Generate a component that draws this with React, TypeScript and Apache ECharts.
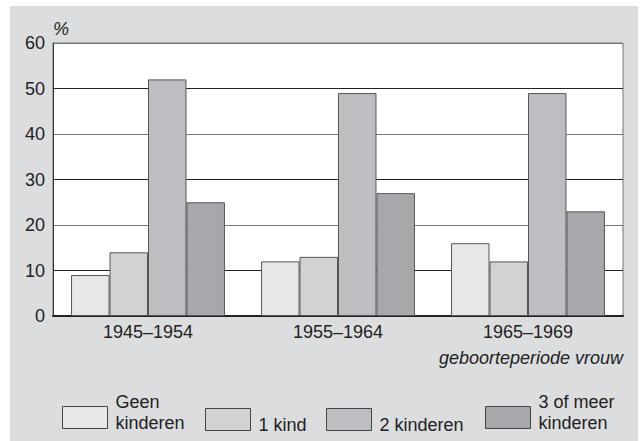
import React, { useEffect, useRef } from "react";
import * as echarts from "echarts";

const categories = ["1945–1954", "1955–1964", "1965–1969"];
const seriesNames = ["Geen kinderen", "1 kind", "2 kinderen", "3 of meer kinderen"];
const legendLines = [["Geen", "kinderen"], ["1 kind"], ["2 kinderen"], ["3 of meer", "kinderen"]];
const geenKinderen = [9, 12, 16];
const eenKind = [14, 13, 12];
const tweeKinderen = [52, 49, 49];
const drieOfMeer = [25, 27, 23];
const yTicks = [0, 10, 20, 30, 40, 50, 60];

const FONT = "Liberation Sans, Arial, sans-serif";
const colors = ["#e6e7e9", "#d1d2d4", "#bdbec1", "#a7a8ab"];
const legendLeft = [62, 205, 326, 485];

export default function App() {
  const ref = useRef<HTMLDivElement>(null);
  useEffect(() => {
    document.body.style.margin = "0";
    const chart = echarts.init(ref.current!, null, { renderer: "svg" });
    const values = [geenKinderen, eenKind, tweeKinderen, drieOfMeer];
    const option: any = {
      animation: false,
      backgroundColor: "#ffffff",
      textStyle: { fontFamily: FONT },
      graphic: [
        { type: "rect", z: -10, shape: { x: 10, y: 6, width: 628, height: 435 }, style: { fill: "#dcdddf" } },
        {
          type: "text", right: 20, top: 349, z: 10,
          style: { text: "geboorteperiode vrouw", font: `italic 18px ${FONT}`, fill: "#222" },
        },
      ],
      grid: {
        left: 53, right: 20, top: 43, bottom: 125,
        show: true, backgroundColor: "#ffffff", borderColor: "#777", borderWidth: 1,
      },
      legend: seriesNames.map((n, i) => {
        const two = legendLines[i].length === 2;
        return {
          data: [n],
          left: legendLeft[i],
          top: two ? 393 : 404,
          padding: 0,
          itemWidth: 45,
          itemHeight: 22,
          icon: "rect",
          selectedMode: false,
          itemStyle: { borderColor: "#444", borderWidth: 1 },
          formatter: () =>
            two
              ? `{t|${legendLines[i][0]}}\n{t|${legendLines[i][1]}}\n{e| }`
              : `{e| }\n{t|${legendLines[i][0]}}`,
          textStyle: {
            fontFamily: FONT, fontSize: 18, color: "#222",
            rich: {
              t: { fontFamily: FONT, fontSize: 18, color: "#222", lineHeight: 21, padding: [0, 0, 0, 3] },
              e: { fontSize: 8, lineHeight: 10, height: 10 },
            },
          },
        };
      }),
      xAxis: {
        type: "category",
        data: categories,
        axisTick: { show: false },
        axisLine: { lineStyle: { color: "#222", width: 2 } },
        axisLabel: { fontSize: 18, color: "#222", margin: 7, fontFamily: FONT },
      },
      yAxis: {
        type: "value",
        min: 0, max: 60, interval: 10,
        name: "%",
        nameGap: 5,
        nameTextStyle: { fontStyle: "italic", fontSize: 18, color: "#222", align: "left", fontFamily: FONT },
        axisLine: { show: true, lineStyle: { color: "#333", width: 1 } },
        axisTick: { show: false },
        axisLabel: {
          fontSize: 18, color: "#222", margin: 8, fontFamily: FONT,
          formatter: (v: number) => (yTicks.includes(v) ? String(v) : ""),
        },
        splitLine: { show: true, lineStyle: { color: ["#777", "#222"], width: 1 } },
      },
      series: seriesNames.map((n, i) => ({
        name: n,
        type: "bar",
        data: values[i],
        barGap: "0%",
        barCategoryGap: "19%",
        itemStyle: { color: colors[i], borderColor: "#555", borderWidth: 1 },
      })),
    };
    chart.setOption(option);
    return () => chart.dispose();
  }, []);
  return <div ref={ref} style={{ width: 643, height: 441 }} />;
}
